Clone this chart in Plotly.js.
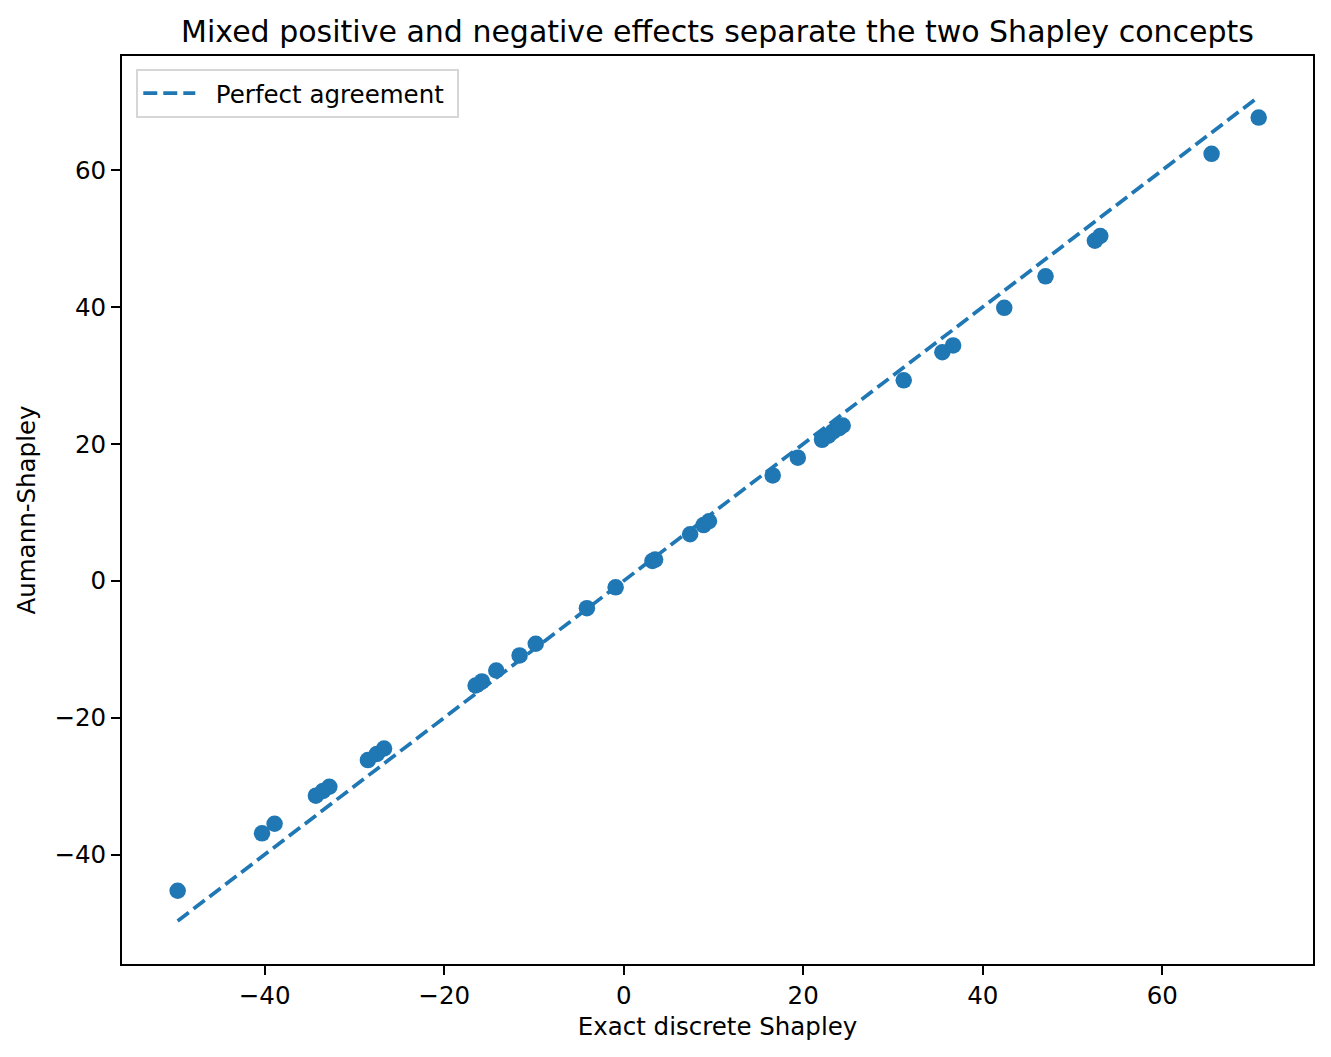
<!DOCTYPE html>
<html>
<head>
<meta charset="utf-8">
<script src="https://cdn.plot.ly/plotly-3.0.1.min.js"></script>
<style>
  body { margin: 0; background: #fff; }
  #plot { width: 1331px; height: 1057px; }
</style>
</head>
<body>
<div id="plot"></div>
<script>
// values
var exact_shapley = [-49.7, -40.3, -38.9, -34.3, -33.5, -32.8, -28.5, -27.5, -26.7,
  -16.5, -15.8, -14.2, -11.6, -9.8, -4.1, -0.9, 3.2, 3.5, 7.4, 8.9, 9.5,
  16.6, 19.4, 22.1, 22.8, 23.3, 24.0, 24.4, 31.2, 35.5, 36.7, 42.4, 47.0,
  52.5, 53.1, 65.5, 70.75]
var aumann_shapley = [-45.3, -36.9, -35.5, -31.4, -30.7, -30.1, -26.2, -25.3, -24.5,
  -15.3, -14.7, -13.1, -10.9, -9.2, -4.0, -0.95, 2.9, 3.1, 6.8, 8.15, 8.7,
  15.4, 18.0, 20.6, 21.2, 21.8, 22.3, 22.7, 29.3, 33.4, 34.4, 39.9, 44.5,
  49.7, 50.4, 62.4, 67.7]
var tick_values = [-40, -20, 0, 20, 40, 60]

var blue = '#1f77b4'
var font_family = '"DejaVu Sans", sans-serif'

// the reference line runs over the range of the exact values
var lo = Math.min.apply(null, exact_shapley)
var hi = Math.max.apply(null, exact_shapley)

var points = {
  x: exact_shapley,
  y: aumann_shapley,
  type: 'scatter',
  mode: 'markers',
  marker: {color: blue, size: 16.5},
  showlegend: false,
  hoverinfo: 'x+y'
}

var agreement = {
  x: [lo, hi],
  y: [lo, hi],
  type: 'scatter',
  mode: 'lines',
  // padding spaces keep the gap between the legend line and its text
  name: '&nbsp;&nbsp;Perfect agreement&nbsp;',
  line: {color: blue, width: 3.75, dash: '14px,6px'}
}

function axis(range, title_text, standoff) {
  return {
    range: range,
    tickvals: tick_values,
    ticks: 'outside',
    ticklen: 9,
    tickwidth: 2,
    tickcolor: '#000',
    showline: true,
    linecolor: '#000',
    linewidth: 2,
    mirror: true,
    showgrid: false,
    zeroline: false,
    tickfont: {size: 24.5, color: '#000'},
    title: {text: title_text, font: {size: 24.5, color: '#000'}, standoff: standoff}
  }
}

var layout = {
  width: 1331,
  height: 1057,
  margin: {l: 122, r: 18, t: 56, b: 93},
  paper_bgcolor: '#fff',
  plot_bgcolor: '#fff',
  font: {family: font_family, color: '#000'},
  title: {
    text: 'Mixed positive and negative effects separate the two Shapley concepts',
    font: {size: 30, color: '#000'},
    x: 0.5, xref: 'paper',
    y: 1 - 31 / 1057, yref: 'container', yanchor: 'middle'
  },
  xaxis: axis([-55.9, 76.8], 'Exact discrete Shapley', 8),
  yaxis: axis([-56.0, 76.7], 'Aumann-Shapley', 12),
  showlegend: true,
  legend: {
    x: 0.012, y: 0.986, xanchor: 'left', yanchor: 'top',
    bgcolor: '#fff',
    bordercolor: '#d6d6d6',
    borderwidth: 2,
    itemwidth: 52,
    font: {size: 24.5, color: '#000'}
  }
}

Plotly.newPlot('plot', [points, agreement], layout, {staticPlot: true})
</script>
</body>
</html>
